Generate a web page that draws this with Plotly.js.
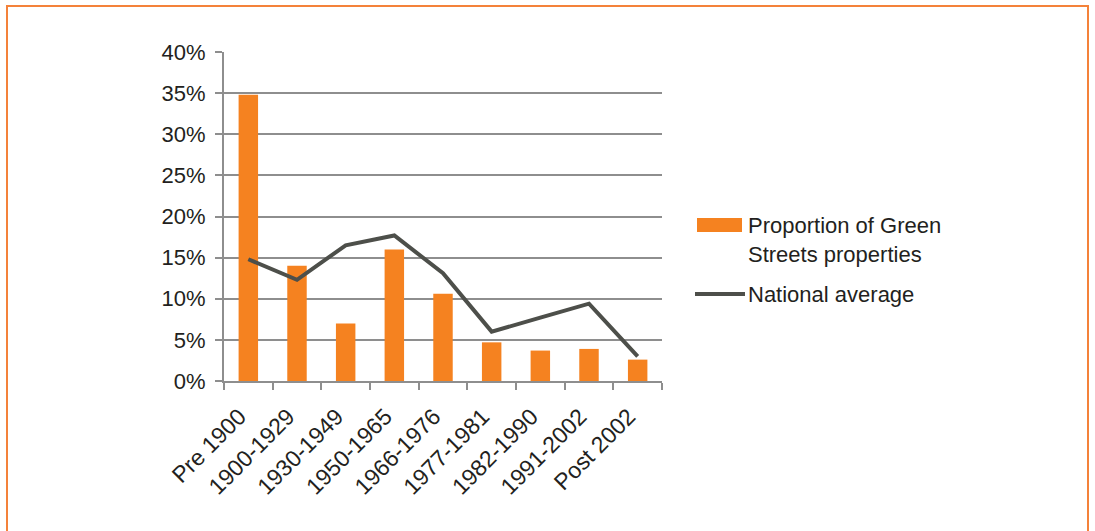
<!DOCTYPE html>
<html>
<head>
<meta charset="utf-8">
<script src="https://cdn.plot.ly/plotly-3.0.1.min.js"></script>
<style>
  html, body { margin: 0; padding: 0; background: #fff; }
  #frame { position: absolute; left: 6px; top: 5px; width: 1083px; height: 540px;
           border: 2px solid #F4823A; border-bottom: none; box-sizing: border-box; }
  #chart { position: absolute; left: 0; top: 0; width: 1095px; height: 531px; }
</style>
</head>
<body>
<div id="frame"></div>
<div id="chart"></div>
<script>
const categories = ["Pre 1900", "1900-1929", "1930-1949", "1950-1965", "1966-1976",
                    "1977-1981", "1982-1990", "1991-2002", "Post 2002"];
const greenStreets = [0.348, 0.140, 0.070, 0.160, 0.106, 0.047, 0.037, 0.039, 0.026];
const nationalAverage = [0.148, 0.123, 0.165, 0.177, 0.131, 0.060, 0.077, 0.094, 0.030];
const seriesNames = ["Proportion of Green<br>Streets properties", "National average"];

const orange = "#F58220";
const gray = "#4D4F4A";
const axisGray = "#8E8E8E";
const textColor = "#231F20";
const font = "Liberation Sans, Arial, Helvetica, sans-serif";
const fs = 22;

const traces = [
  { type: "bar", x: categories, y: greenStreets, name: seriesNames[0],
    marker: { color: orange }, width: 0.4, showlegend: false, hoverinfo: "x+y" },
  { type: "scatter", mode: "lines", x: categories, y: nationalAverage, name: seriesNames[1],
    line: { color: gray, width: 4 }, showlegend: false }
];

// plot area: x 224..662, y 52..381 (px)
const px = v => (v - 224) / 438;
const py = v => (381 - v) / 329;

const layout = {
  width: 1095, height: 531,
  margin: { l: 224, r: 433, t: 52, b: 150 },
  paper_bgcolor: "rgba(0,0,0,0)", plot_bgcolor: "rgba(0,0,0,0)",
  font: { family: font, size: fs, color: textColor },
  showlegend: false,
  xaxis: {
    type: "category", tickangle: -45, showgrid: false,
    showline: true, linecolor: axisGray, linewidth: 2,
    ticks: "outside", tickson: "boundaries", ticklen: 7, tickcolor: axisGray, tickwidth: 2,
    ticklabelshift: -9, ticklabelstandoff: 11,
    tickfont: { family: font, size: 23, color: textColor }
  },
  yaxis: {
    range: [0, 0.4], dtick: 0.05, tickformat: ".0%",
    showgrid: true, gridcolor: axisGray, gridwidth: 2,
    showline: true, linecolor: axisGray, linewidth: 2,
    ticks: "outside", ticklen: 7, tickcolor: axisGray, tickwidth: 2,
    zeroline: false, ticklabelstandoff: 5,
    tickfont: { family: font, size: fs, color: textColor }
  },
  shapes: [
    { type: "rect", xref: "paper", yref: "paper",
      x0: px(697), x1: px(742), y0: py(232), y1: py(218),
      fillcolor: orange, line: { width: 0 } },
    { type: "line", xref: "paper", yref: "paper",
      x0: px(695), x1: px(745), y0: py(294), y1: py(294),
      line: { color: gray, width: 4 } }
  ],
  annotations: [
    { xref: "paper", yref: "paper", x: px(746), y: py(211), xanchor: "left", yanchor: "top",
      text: seriesNames[0], showarrow: false, align: "left",
      font: { family: font, size: fs, color: textColor } },
    { xref: "paper", yref: "paper", x: px(746), y: py(294), xanchor: "left", yanchor: "middle",
      text: seriesNames[1], showarrow: false, align: "left",
      font: { family: font, size: fs, color: textColor } }
  ]
};

Plotly.newPlot("chart", traces, layout, { displayModeBar: false, staticPlot: true });
</script>
</body>
</html>
